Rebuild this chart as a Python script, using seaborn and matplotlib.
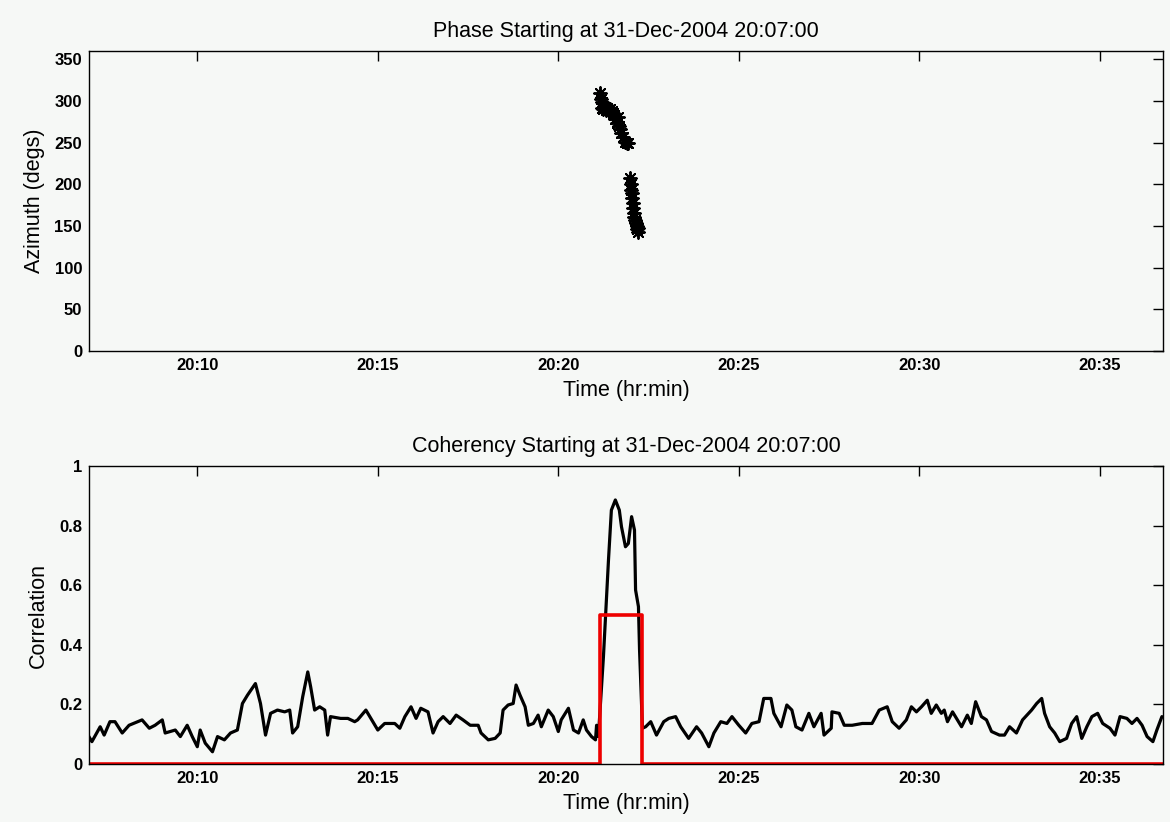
import matplotlib
matplotlib.use("Agg")
import matplotlib.pyplot as plt
import seaborn as sns
import pandas as pd
from matplotlib.ticker import FixedLocator, FixedFormatter

# ---- data (time in minutes after 20:00) ----
az_time = [21.16, 21.18, 21.22, 21.20, 21.24, 21.28, 21.32, 21.36, 21.40, 21.44,
           21.48, 21.52, 21.55, 21.58, 21.62, 21.66, 21.68, 21.71, 21.75, 21.80,
           21.85, 21.89, 21.92, 21.99, 22.00, 22.02, 22.03, 22.05, 22.06, 22.08,
           22.09, 22.11, 22.13, 22.14, 22.17, 22.19, 22.20, 22.22]
az_deg = [310, 302, 299, 292, 290, 293, 289, 291, 289, 290,
          288, 286, 283, 278, 274, 281, 270, 266, 262, 257,
          251, 249, 250, 207, 200, 193, 189, 183, 177, 171,
          166, 161, 157, 153, 150, 146, 143, 147]

coh_time = [6.94, 7.08, 7.31, 7.42, 7.58, 7.72, 7.92, 8.11, 8.47, 8.67,
            8.83, 9.03, 9.11, 9.39, 9.53, 9.72, 9.86, 10.00, 10.08, 10.22,
            10.42, 10.56, 10.75, 10.92, 11.11, 11.25, 11.39, 11.61, 11.75, 11.89,
            12.03, 12.22, 12.42, 12.56, 12.64, 12.78, 12.92, 13.06, 13.14, 13.25,
            13.39, 13.53, 13.61, 13.69, 13.97, 14.17, 14.36, 14.44, 14.67, 15.00,
            15.19, 15.47, 15.61, 15.75, 15.92, 16.06, 16.19, 16.39, 16.53, 16.67,
            16.81, 17.00, 17.17, 17.36, 17.56, 17.78, 17.86, 18.06, 18.25, 18.39,
            18.47, 18.61, 18.75, 18.83, 18.94, 19.08, 19.17, 19.31, 19.44, 19.53,
            19.72, 19.86, 20.00, 20.08, 20.28, 20.42, 20.56, 20.69, 20.78, 20.92,
            21.03, 21.06, 21.11, 21.25, 21.31, 21.39, 21.47, 21.58, 21.69, 21.75,
            21.86, 21.94, 22.03, 22.11, 22.14, 22.22, 22.25, 22.33, 22.42, 22.56,
            22.72, 22.92, 23.06, 23.25, 23.39, 23.61, 23.83, 23.97, 24.17, 24.31,
            24.50, 24.67, 24.81, 25.00, 25.19, 25.36, 25.56, 25.69, 25.89, 25.97,
            26.17, 26.33, 26.47, 26.58, 26.75, 26.94, 27.08, 27.28, 27.36, 27.56,
            27.58, 27.78, 27.92, 28.14, 28.42, 28.69, 28.89, 29.11, 29.25, 29.44,
            29.64, 29.78, 29.92, 30.06, 30.22, 30.33, 30.47, 30.61, 30.69, 30.78,
            30.92, 31.17, 31.33, 31.44, 31.56, 31.72, 31.86, 32.00, 32.22, 32.36,
            32.50, 32.69, 32.86, 33.11, 33.25, 33.39, 33.47, 33.61, 33.75, 33.89,
            34.08, 34.22, 34.36, 34.50, 34.64, 34.78, 34.94, 35.08, 35.28, 35.42,
            35.56, 35.75, 35.89, 36.03, 36.17, 36.31, 36.47, 36.58, 36.72]
coh_val = [0.104, 0.075, 0.125, 0.097, 0.142, 0.142, 0.104, 0.130, 0.148, 0.120,
           0.130, 0.148, 0.104, 0.114, 0.092, 0.130, 0.092, 0.058, 0.114, 0.070,
           0.041, 0.092, 0.081, 0.104, 0.114, 0.203, 0.231, 0.270, 0.203, 0.097,
           0.170, 0.181, 0.175, 0.181, 0.104, 0.125, 0.226, 0.309, 0.259, 0.181,
           0.192, 0.181, 0.097, 0.159, 0.153, 0.153, 0.142, 0.148, 0.181, 0.114,
           0.136, 0.136, 0.120, 0.159, 0.192, 0.153, 0.187, 0.175, 0.104, 0.142,
           0.159, 0.136, 0.164, 0.148, 0.130, 0.130, 0.104, 0.081, 0.086, 0.104,
           0.181, 0.198, 0.203, 0.265, 0.231, 0.192, 0.130, 0.136, 0.164, 0.125,
           0.181, 0.159, 0.109, 0.148, 0.187, 0.114, 0.104, 0.148, 0.114, 0.092,
           0.081, 0.130, 0.092, 0.360, 0.500, 0.685, 0.852, 0.886, 0.852, 0.796,
           0.729, 0.740, 0.830, 0.785, 0.584, 0.528, 0.383, 0.120, 0.125, 0.142,
           0.097, 0.142, 0.153, 0.159, 0.125, 0.086, 0.125, 0.104, 0.058, 0.104,
           0.142, 0.136, 0.159, 0.130, 0.104, 0.136, 0.142, 0.220, 0.220, 0.170,
           0.125, 0.198, 0.181, 0.125, 0.114, 0.170, 0.125, 0.170, 0.097, 0.120,
           0.175, 0.170, 0.130, 0.130, 0.136, 0.136, 0.181, 0.192, 0.142, 0.120,
           0.148, 0.192, 0.175, 0.192, 0.214, 0.170, 0.198, 0.170, 0.181, 0.142,
           0.175, 0.125, 0.164, 0.136, 0.209, 0.159, 0.148, 0.109, 0.097, 0.097,
           0.125, 0.104, 0.148, 0.181, 0.203, 0.220, 0.170, 0.125, 0.104, 0.075,
           0.086, 0.136, 0.159, 0.086, 0.125, 0.159, 0.170, 0.136, 0.120, 0.097,
           0.159, 0.153, 0.136, 0.153, 0.130, 0.092, 0.075, 0.114, 0.159]

det_time = [7.0, 21.16, 21.16, 22.31, 22.31, 36.75]
det_val = [0.0, 0.0, 0.5, 0.5, 0.0, 0.0]

tick_minutes = [10, 15, 20, 25, 30, 35]
tick_labels = ["20:10", "20:15", "20:20", "20:25", "20:30", "20:35"]
az_ticks = [0, 50, 100, 150, 200, 250, 300, 350]
corr_ticks = [0, 0.2, 0.4, 0.6, 0.8, 1]
corr_labels = ["0", "0.2", "0.4", "0.6", "0.8", "1"]

title_top = "Phase Starting at 31-Dec-2004 20:07:00"
title_bot = "Coherency Starting at 31-Dec-2004 20:07:00"

# ---- style ----
sns.set_style("white")
plt.rcParams["font.family"] = ["Liberation Sans", "DejaVu Sans"]
bg = "#f6f8f6"

W, H = 1170, 822
fig = plt.figure(figsize=(W / 100, H / 100), dpi=100, facecolor=bg)

def box(l, t, r, b):
    return [l / W, 1 - b / H, (r - l) / W, (b - t) / H]

ax1 = fig.add_axes(box(89, 51, 1163, 351))
ax2 = fig.add_axes(box(89, 466, 1163, 764))

for ax in (ax1, ax2):
    ax.set_facecolor(bg)
    for s in ax.spines.values():
        s.set_visible(True)
        s.set_color("black")
        s.set_linewidth(1.0)
    ax.tick_params(direction="in", top=True, right=True, length=7,
                   width=1, labelsize=12, colors="black", pad=5)
    ax.set_xlim(7.0, 36.75)
    ax.xaxis.set_major_locator(FixedLocator(tick_minutes))
    ax.xaxis.set_major_formatter(FixedFormatter(tick_labels))

df_az = pd.DataFrame({"t": az_time, "az": az_deg})
sns.scatterplot(data=df_az, x="t", y="az", ax=ax1, marker=(8, 2, 0), s=85,
                color="black", linewidth=1.4, edgecolor="black")
ax1.set_ylim(0, 360)
ax1.yaxis.set_major_locator(FixedLocator(az_ticks))
ax1.yaxis.set_major_formatter(FixedFormatter([str(v) for v in az_ticks]))

df_coh = pd.DataFrame({"t": coh_time, "c": coh_val})
df_det = pd.DataFrame({"t": det_time, "d": det_val})
sns.lineplot(data=df_coh, x="t", y="c", ax=ax2, color="black", linewidth=2.3,
             estimator=None, sort=False)
sns.lineplot(data=df_det, x="t", y="d", ax=ax2, color="#ee0000", linewidth=2.6,
             estimator=None, sort=False)
ax2.set_ylim(0, 1)
ax2.yaxis.set_major_locator(FixedLocator(corr_ticks))
ax2.yaxis.set_major_formatter(FixedFormatter(corr_labels))

label_kw = dict(fontsize=15.5, color="black")
ax1.set_xlabel("Time (hr:min)", labelpad=5, **label_kw)
ax1.set_ylabel("Azimuth (degs)", labelpad=7, **label_kw)
ax1.set_title(title_top, fontsize=15.5, color="black", pad=10)
ax2.set_xlabel("Time (hr:min)", labelpad=5, **label_kw)
ax2.set_ylabel("Correlation", labelpad=7, **label_kw)
ax2.set_title(title_bot, fontsize=15.5, color="black", pad=10)

for ax in (ax1, ax2):
    for lab in ax.get_xticklabels() + ax.get_yticklabels():
        lab.set_fontweight("bold")

fig.savefig("out.png", dpi=100, facecolor=bg)
